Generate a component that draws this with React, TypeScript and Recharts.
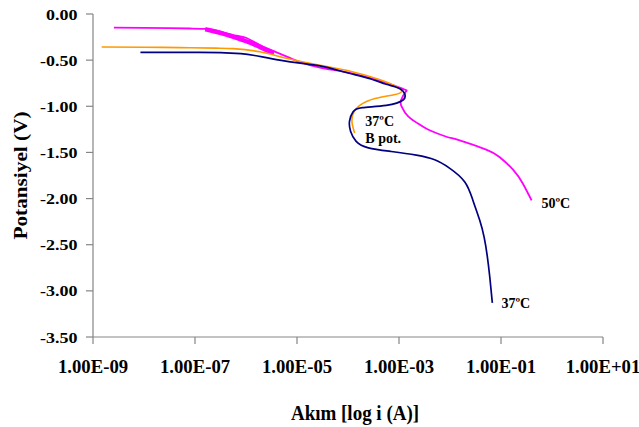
import React from "react";
import { LineChart, Line, XAxis, YAxis, ReferenceDot, Label } from "recharts";

// log10 of current (A) and potential (V) for each curve
const blueLogI = [-8.07, -7.5, -7.0, -6.5, -6.1, -5.83, -5.34, -4.9, -4.55, -4.2, -3.9, -3.55, -3.25, -2.99, -2.89, -2.92, -3.25, -3.72, -3.9, -3.97, -3.95, -3.84, -3.6, -3.15, -2.66, -2.3, -2.01, -1.71, -1.55, -1.42, -1.33, -1.27, -1.22, -1.17];
const blueV = [-0.415, -0.415, -0.416, -0.418, -0.43, -0.45, -0.5, -0.535, -0.563, -0.61, -0.653, -0.705, -0.761, -0.807, -0.862, -0.932, -0.99, -1.015, -1.06, -1.16, -1.27, -1.38, -1.45, -1.49, -1.53, -1.58, -1.67, -1.82, -2.02, -2.23, -2.42, -2.62, -2.85, -3.13];

const orangeLogI = [-8.83, -8.0, -7.3, -6.6, -6.25, -5.73, -5.21, -4.55, -3.9, -3.25, -2.99, -2.95, -3.1, -3.47, -3.77, -3.9, -3.92, -3.87];
const orangeV = [-0.357, -0.36, -0.364, -0.37, -0.375, -0.41, -0.48, -0.555, -0.628, -0.736, -0.807, -0.844, -0.875, -0.916, -0.99, -1.08, -1.18, -1.29];

const magentaLogI = [-8.59, -8.0, -7.5, -7.1, -6.8, -6.6, -6.45, -6.19, -5.99, -5.8, -5.6, -5.4, -5.14, -4.95, -4.55, -3.9, -3.25, -2.89, -2.87, -2.96, -2.95, -2.82, -2.59, -2.4, -2.07, -1.81, -1.29, -1.03, -0.76, -0.57, -0.4];
const magentaV = [-0.147, -0.15, -0.153, -0.157, -0.162, -0.178, -0.198, -0.235, -0.26, -0.315, -0.37, -0.415, -0.476, -0.519, -0.58, -0.645, -0.745, -0.818, -0.844, -0.934, -1.0, -1.11, -1.2, -1.26, -1.33, -1.37, -1.47, -1.55, -1.69, -1.84, -2.02];

// centre of the noisy (thick) part of the 50ºC curve
const magentaBandLogI = [-6.8, -6.71, -6.45, -6.26, -6.12, -5.93, -5.73, -5.54, -5.45];
const magentaBandV = [-0.165, -0.176, -0.212, -0.244, -0.271, -0.308, -0.357, -0.404, -0.42];

const xTicks = [1e-9, 1e-7, 1e-5, 1e-3, 1e-1, 10];
const xTickLabels = ["1.00E-09", "1.00E-07", "1.00E-05", "1.00E-03", "1.00E-01", "1.00E+01"];
const yTicks = [0, -0.5, -1, -1.5, -2, -2.5, -3, -3.5];
const yTickLabels = ["0.00", "-0.50", "-1.00", "-1.50", "-2.00", "-2.50", "-3.00", "-3.50"];

const build = (li: number[], v: number[]) => li.map((l, i) => ({ x: Math.pow(10, l), y: v[i] }));

const blueData = build(blueLogI, blueV);
const orangeData = build(orangeLogI, orangeV);
const magentaData = build(magentaLogI, magentaV);
const magentaBandData = build(magentaBandLogI, magentaBandV);

const txt: React.CSSProperties = { fontFamily: "Liberation Serif", fontWeight: 700 };

const XTick = (props: any) => {
  const { x, payload } = props;
  const i = xTicks.indexOf(payload.value);
  return (
    <text transform={`translate(${x},372.5) scale(1.04,1)`} textAnchor="middle" style={{ ...txt, fontSize: 18 }} fill="#000">
      {xTickLabels[i] ?? ""}
    </text>
  );
};

const YTick = (props: any) => {
  const { y, payload } = props;
  const i = yTicks.indexOf(payload.value);
  return (
    <text transform={`translate(77.5,${y + 5.5}) scale(1.16,1)`} textAnchor="end" style={{ ...txt, fontSize: 15.5 }} fill="#000">
      {yTickLabels[i] ?? ""}
    </text>
  );
};

const ann = (lines: string[]) => (props: any) => {
  const vb = props.viewBox || {};
  const x = (vb.x ?? 0) + (vb.width ?? 0) / 2;
  const y = (vb.y ?? 0) + (vb.height ?? 0) / 2;
  return (
    <text x={x} y={y + 4.8} textAnchor="start" style={{ ...txt, fontSize: 14 }} fill="#000">
      {lines.map((t, k) => (
        <tspan key={k} x={x} dy={k === 0 ? 0 : 16.5}>{t}</tspan>
      ))}
    </text>
  );
};

export default function App() {
  return (
    <div style={{ width: 639, height: 427, background: "#fff" }}>
      <style>{"body{margin:0;}"}</style>
      <LineChart width={639} height={427} margin={{ top: 14, right: 36, bottom: 0, left: 0 }}>
        <XAxis
          dataKey="x"
          type="number"
          scale="log"
          domain={[1e-9, 10]}
          allowDataOverflow
          ticks={xTicks}
          height={90}
          tickSize={7}
          axisLine={{ stroke: "#858585", strokeWidth: 1.2 }}
          tickLine={{ stroke: "#858585", strokeWidth: 1.2 }}
          tick={<XTick />}
          interval={0}
        >
          <Label
            content={(p: any) => {
              const vb = p.viewBox;
              return (
                <text transform={`translate(${vb.x + vb.width / 2 + 7},420) scale(1,1.12)`} textAnchor="middle" style={{ ...txt, fontSize: 19 }} fill="#000">
                  Akım [log i (A)]
                </text>
              );
            }}
          />
        </XAxis>
        <YAxis
          type="number"
          domain={[-3.5, 0]}
          ticks={yTicks}
          width={93}
          tickSize={7}
          axisLine={{ stroke: "#858585", strokeWidth: 1.2 }}
          tickLine={{ stroke: "#858585", strokeWidth: 1.2 }}
          tick={<YTick />}
          interval={0}
        >
          <Label
            content={(p: any) => {
              const vb = p.viewBox;
              return (
                <text transform={`translate(26.5,${vb.y + vb.height / 2}) rotate(-90) scale(1.15,1)`} textAnchor="middle" style={{ ...txt, fontSize: 18.5 }} fill="#000">
                  Potansiyel (V)
                </text>
              );
            }}
          />
        </YAxis>
        <Line data={magentaBandData} dataKey="y" type="natural" stroke="#ff00ff" strokeWidth={4.5} dot={false} activeDot={false} isAnimationActive={false} />
        <Line data={magentaData} dataKey="y" type="natural" stroke="#ff00ff" strokeWidth={1.8} dot={false} activeDot={false} isAnimationActive={false} />
        <Line data={orangeData} dataKey="y" type="natural" stroke="#ff9900" strokeWidth={1.6} dot={false} activeDot={false} isAnimationActive={false} />
        <Line data={blueData} dataKey="y" type="natural" stroke="#000080" strokeWidth={1.7} dot={false} activeDot={false} isAnimationActive={false} />
        <ReferenceDot x={Math.pow(10, -3.66)} y={-1.167} r={0} stroke="none" fill="none" label={ann(["37ºC", "B pot."])} />
        <ReferenceDot x={Math.pow(10, -0.208)} y={-2.049} r={0} stroke="none" fill="none" label={ann(["50ºC"])} />
        <ReferenceDot x={Math.pow(10, -0.992)} y={-3.13} r={0} stroke="none" fill="none" label={ann(["37ºC"])} />
      </LineChart>
    </div>
  );
}
